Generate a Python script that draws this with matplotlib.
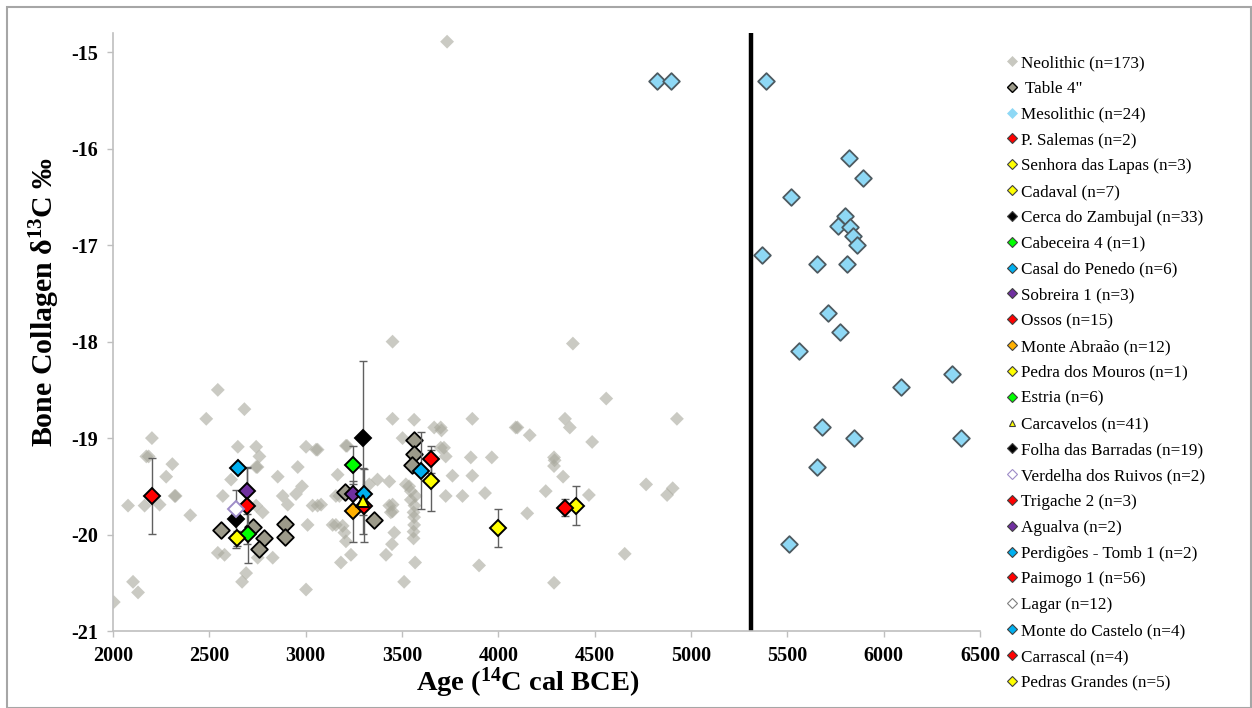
import matplotlib
matplotlib.use("Agg")
import matplotlib.pyplot as plt
from matplotlib.lines import Line2D
from matplotlib.patches import Rectangle

# Neolithic background points (age cal BCE, d13C)
neo_age = [2004, 2078, 2104, 2130, 2164, 2173, 2185, 2202, 2242, 2276, 2308, 2320, 2325,
           2401, 2484, 2544, 2544, 2579, 2570, 2613, 2648, 2670, 2682, 2691, 2743, 2760,
           2743, 2750, 2743, 2777, 2751, 2829, 2855, 2881, 2907, 2950, 2959, 2981, 3002,
           3010, 3002, 3036, 3054, 3062, 3080, 3062, 3140, 3157, 3157, 3166, 3183, 3192,
           3201, 3209, 3209, 3215, 3235, 3330, 3373, 3417, 3434, 3434, 3442, 3448, 3451,
           3451, 3460, 3503, 3511, 3520, 3537, 3546, 3546, 3560, 3563, 3563, 3560, 3560,
           3565, 3568, 3563, 3570, 3667, 3701, 3705, 3701, 3718, 3727, 3727, 3734, 3762,
           3814, 3857, 3865, 3865, 3900, 3931, 3966, 4090, 4099, 4150, 4163, 4246, 4289,
           4292, 4289, 4289, 4336, 4346, 4371, 4387, 4470, 4487, 4560, 4656, 4767, 4876,
           4905, 4927, 3451, 3451, 3175]
neo_d13c = [-20.70, -19.70, -20.49, -20.60, -19.70, -19.19, -19.19, -19.00, -19.69, -19.40,
            -19.27, -19.60, -19.60, -19.80, -18.80, -18.50, -20.19, -20.21, -19.60, -19.43,
            -19.09, -20.49, -18.70, -20.40, -19.09, -19.19, -19.30, -19.30, -19.70, -19.77,
            -20.24, -20.24, -19.40, -19.60, -19.69, -19.58, -19.30, -19.50, -19.09, -19.90,
            -20.57, -19.70, -19.12, -19.12, -19.69, -19.70, -19.90, -19.60, -19.90, -19.38,
            -20.29, -19.91, -19.98, -20.07, -19.08, -19.08, -20.21, -19.48, -19.43, -20.21,
            -19.45, -19.70, -19.77, -20.10, -18.00, -18.80, -19.98, -19.00, -20.49, -19.48,
            -19.50, -19.55, -19.64, -19.77, -19.82, -19.90, -19.97, -20.04, -19.70, -20.29,
            -18.81, -19.60, -18.89, -18.89, -18.92, -19.10, -19.10, -19.19, -19.60, -14.89,
            -19.39, -19.60, -19.20, -18.80, -19.39, -20.32, -19.57, -19.20, -18.89, -18.89,
            -19.78, -18.97, -19.55, -19.20, -19.23, -19.29, -20.50, -19.40, -18.80, -18.89,
            -18.02, -19.59, -19.04, -18.59, -20.20, -19.48, -19.59, -19.52, -18.80, -19.69,
            -19.76, -19.60]

# Table 4" points
t4_age = [2558, 2725, 2782, 2758, 2895, 2895, 3204, 3356, 3563, 3560, 3554]
t4_d13c = [-19.95, -19.92, -20.04, -20.15, -19.89, -20.03, -19.56, -19.85, -19.02, -19.17, -19.28]

# Mesolithic points
meso_age = [4823, 4896, 5389, 5822, 5895, 5520, 5797, 5762, 5826, 5843, 5860, 5371,
            5653, 5808, 5713, 5774, 5558, 6356, 6090, 5679, 5848, 6401, 5653, 5511]
meso_d13c = [-15.30, -15.30, -15.30, -16.10, -16.30, -16.50, -16.70, -16.80, -16.81, -16.90,
             -17.00, -17.10, -17.20, -17.20, -17.70, -17.90, -18.10, -18.34, -18.47, -18.89,
             -19.00, -19.00, -19.30, -20.10]

# Site means with error bars
site_names = ['P. Salemas (n=2)', 'Senhora das Lapas (n=3)', 'Cadaval (n=7)',
              'Cerca do Zambujal (n=33)', 'Cabeceira 4 (n=1)', 'Casal do Penedo (n=6)',
              'Sobreira 1 (n=3)', 'Ossos (n=15)', 'Monte Abraão (n=12)',
              'Pedra dos Mouros (n=1)', 'Estria (n=6)', 'Carcavelos (n=41)',
              'Folha das Barradas (n=19)', 'Verdelha dos Ruivos (n=2)', 'Trigache 2 (n=3)',
              'Agualva (n=2)', 'Perdigões - Tomb 1 (n=2)', 'Paimogo 1 (n=56)', 'Lagar (n=12)',
              'Monte do Castelo (n=4)', 'Carrascal (n=4)', 'Pedras Grandes (n=5)']
site_age = [[2200], [4401], [3998], [3299], [2700], [2648], [2696], [2696], [3247], [2644],
            [3247], [3299], [2639], [2639], [3304], [3247], [3304], [4344], [], [3598],
            [3650], [3650]]
site_d13c = [[-19.60], [-19.70], [-19.93], [-19.00], [-19.99], [-19.31], [-19.55], [-19.70],
             [-19.76], [-20.04], [-19.28], [-19.65], [-19.84], [-19.74], [-19.70], [-19.58],
             [-19.58], [-19.72], [], [-19.34], [-19.22], [-19.44]]
site_err = [[0.39], [0.20], [0.20], [0.80], [0.30], [0.0], [0.24], [0.40], [0.32], [0.08],
            [0.20], [0.34], [0.30], [0.0], [0.38], [0.0], [0.0], [0.09], [], [0.40],
            [0.14], [0.32]]

# styles
site_fill = ['#FF0000', '#FFFF00', '#FFFF00', '#000000', '#00FF00', '#00B0F0', '#7030A0',
             '#FF0000', '#FFB000', '#FFFF00', '#00FF00', '#FFFF00', '#000000', '#FFFFFF',
             '#FF0000', '#7030A0', '#00B0F0', '#FF0000', '#FFFFFF', '#00B0F0', '#FF0000',
             '#FFFF00']
site_edge = ['black'] * len(site_names)
site_edge[13] = '#9E8CC8'
site_edge[18] = '#7F7F7F'
site_marker = ['D'] * len(site_names)
site_marker[11] = '^'

plt.rcParams['font.family'] = ['Liberation Serif', 'DejaVu Serif']
plt.rcParams['mathtext.fontset'] = 'custom'
plt.rcParams['mathtext.rm'] = 'Liberation Serif'
plt.rcParams['mathtext.bf'] = 'Liberation Serif:bold'
plt.rcParams['axes.unicode_minus'] = False

fig = plt.figure(figsize=(12.52, 7.08), dpi=100)
fig.patches.append(Rectangle((7 / 1252, 0.0), 1 - 8 / 1252, 1 - 7 / 708, transform=fig.transFigure,
                             fill=False, edgecolor='#A6A6A6', lw=1.5))
ax = fig.add_axes([113 / 1252, 1 - 631 / 708, (980 - 113) / 1252, (631 - 33) / 708])

ax.scatter(neo_age, neo_d13c, marker='D', s=50, c='#A8A89C', alpha=0.6, edgecolors='none', zorder=2)
ax.scatter(t4_age, t4_d13c, marker='D', s=72, c='#9C9A8A', edgecolors='black', linewidths=1.3, zorder=3)
ax.scatter(meso_age, meso_d13c, marker='D', s=72, c='#8ED8F5', edgecolors='#4D5A60', linewidths=1.3, zorder=3)

for i in range(len(site_names)):
    if not site_age[i]:
        continue
    z = 6 if site_marker[i] == '^' else 5
    if max(site_err[i]) > 0:
        ax.errorbar(site_age[i], site_d13c[i], yerr=site_err[i], fmt='none', ecolor='#606060',
                    elinewidth=1, capsize=3, capthick=1, zorder=4)
    ax.plot(site_age[i], site_d13c[i], ls='none', marker=site_marker[i], ms=8.6,
            mfc=site_fill[i], mec=site_edge[i], mew=1.4, zorder=z)

ax.axvline(5310, color='black', lw=3.2, zorder=1)

ax.set_xlim(2000, 6500)
ax.set_ylim(-21, -14.8)
ax.set_xticks(range(2000, 6501, 500))
ax.set_yticks([-21, -20, -19, -18, -17, -16, -15])
for s in ['top', 'right']:
    ax.spines[s].set_visible(False)
for s in ['left', 'bottom']:
    ax.spines[s].set_color('#BFBFBF')
    ax.spines[s].set_linewidth(1.2)
ax.tick_params(direction='out', length=4, width=1, color='#BFBFBF', pad=7, labelsize=14.5)
for lab in ax.get_xticklabels() + ax.get_yticklabels():
    lab.set_fontweight('bold')

ax.set_xlabel(r'Age ($\mathbf{^{14}}$C cal BCE)', fontsize=20.5, fontweight='bold')
ax.set_ylabel('Bone Collagen δ$\\mathbf{^{13}}$C ‰', fontsize=21.5, fontweight='bold')
ax.xaxis.set_label_coords(0.478, -0.058)
ax.yaxis.set_label_coords(-0.059, 0.55)

handles = [Line2D([], [], ls='none', marker='D', ms=5, mfc='#C8C8C0', mec='#C8C8C0', mew=0.5),
           Line2D([], [], ls='none', marker='D', ms=5, mfc='#9C9A8A', mec='black', mew=1),
           Line2D([], [], ls='none', marker='D', ms=5, mfc='#8ED8F5', mec='#8ED8F5', mew=0.5)]
labels = ['Neolithic (n=173)', ' Table 4"', 'Mesolithic (n=24)']
for i in range(len(site_names)):
    handles.append(Line2D([], [], ls='none', marker=site_marker[i], ms=5, mfc=site_fill[i],
                          mec=site_edge[i] if site_fill[i] == '#FFFFFF' else '#404040', mew=0.8))
    labels.append(site_names[i])

fig.legend(handles, labels, loc='upper left', bbox_to_anchor=(1006 / 1252, 1 - 55 / 708),
           frameon=False, fontsize=12.3, handlelength=0.7, handletextpad=0.2,
           labelspacing=0.575, borderaxespad=0, borderpad=0)

fig.savefig('out.png', dpi=100)
